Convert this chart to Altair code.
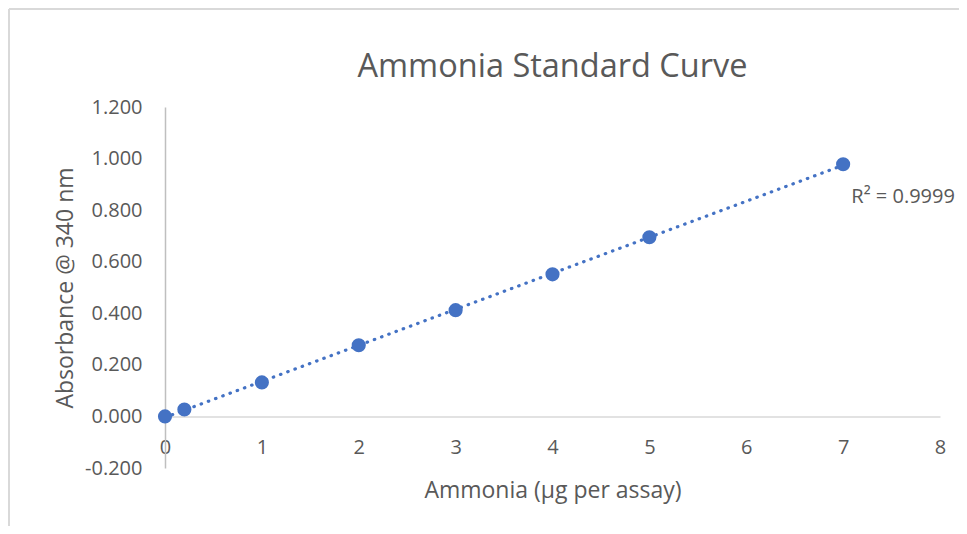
import altair as alt
import pandas as pd

# Data
ammonia_ug = [0, 0.2, 1, 2, 3, 4, 5, 7]
absorbance = [0.000, 0.027, 0.132, 0.276, 0.412, 0.551, 0.695, 0.978]
r2_label = ["R² = 0.9999"]
x_ticks = [0, 1, 2, 3, 4, 5, 6, 7, 8]
y_ticks = [-0.2, 0.0, 0.2, 0.4, 0.6, 0.8, 1.0, 1.2]

df = pd.DataFrame({"x": ammonia_ug, "y": absorbance})
lab = pd.DataFrame({"x": [ammonia_ug[-1]], "y": [absorbance[-1]], "t": r2_label})

W, H = 775, 361
FONT = "Open Sans"
GREY = "#595959"
BLUE = "#4472C4"

xscale = alt.Scale(domain=[0, 8], nice=False, zero=False)
yscale = alt.Scale(domain=[-0.2, 1.2], nice=False, zero=False)

x_enc = alt.X(
    "x:Q", scale=xscale,
    axis=alt.Axis(
        title="Ammonia (µg per assay)", values=x_ticks, format="d",
        grid=False, ticks=False, tickSize=0, labelPadding=21, labelFlush=False,
        domainColor="#d9d9d9", domainWidth=1.5,
        offset=-H * 0.2 / 1.4, titlePadding=22,
    ),
)
y_enc = alt.Y(
    "y:Q", scale=yscale,
    axis=alt.Axis(
        title="Absorbance @ 340 nm", values=y_ticks,
        labelExpr="replace(format(datum.value, '.3f'), '\u2212', '-')",
        grid=False, ticks=False, tickSize=0, labelPadding=23, labelFlush=False,
        domainColor="#bfbfbf", domainWidth=1.5, titlePadding=7,
    ),
)

trend = (
    alt.Chart(df)
    .transform_regression("x", "y", method="linear")
    .mark_line(color=BLUE, strokeWidth=3.2, strokeDash=[0.5, 7.2], strokeCap="round")
    .encode(x=x_enc, y=y_enc)
)

points = (
    alt.Chart(df)
    .mark_circle(color=BLUE, size=200, opacity=1)
    .encode(x="x:Q", y="y:Q")
)

r2 = (
    alt.Chart(lab)
    .mark_text(font=FONT, fontSize=20, color=GREY, align="center", dx=60, dy=33)
    .encode(x="x:Q", y="y:Q", text="t:N")
)

frame_left = alt.Chart(df).mark_rule(color="#d9d9d9", strokeWidth=1.5).encode(
    x=alt.value(-156), y=alt.value(-98), y2=alt.value(H + 70)
)
frame_top = alt.Chart(df).mark_rule(color="#d9d9d9", strokeWidth=1.5).encode(
    x=alt.value(-156), x2=alt.value(W + 20), y=alt.value(-98)
)

chart = (
    alt.layer(frame_left, frame_top, trend, points, r2)
    .properties(
        width=W, height=H,
        title=alt.TitleParams("Ammonia Standard Curve", font=FONT, fontSize=32.5,
                              fontWeight="normal", color=GREY, offset=-75,
                              frame="group"),
        autosize=alt.AutoSizeParams(type="none"),
        padding={"left": 157, "top": 99, "right": 19, "bottom": 58},
    )
    .configure_view(stroke=None)
    .configure_axis(labelFont=FONT, titleFont=FONT, labelFontSize=20, titleFontSize=23,
                    labelColor=GREY, titleColor=GREY, titleFontWeight="normal")
)

chart.save("out.html", embed_options={"renderer": "svg", "actions": False})
